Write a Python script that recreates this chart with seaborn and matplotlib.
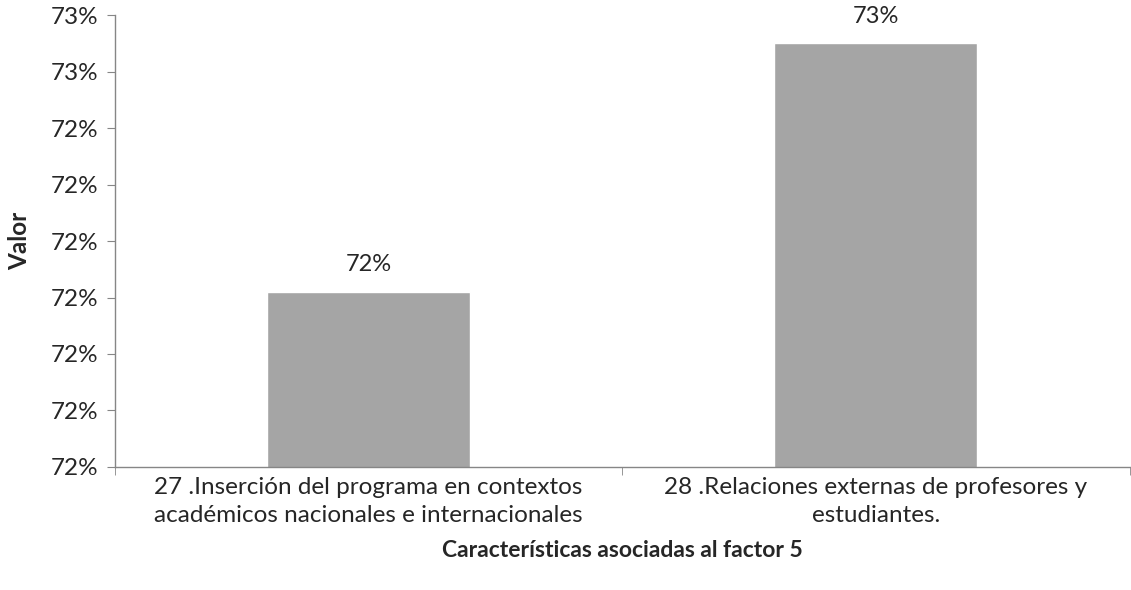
import matplotlib
matplotlib.use("Agg")
import pandas as pd
import seaborn as sns
import matplotlib.pyplot as plt
from matplotlib.ticker import FuncFormatter, FixedLocator

categorias = [
    "27 .Inserción del programa en contextos\nacadémicos nacionales e internacionales",
    "28 .Relaciones externas de profesores y\nestudiantes.",
]
valores = [0.7211, 0.7255]
etiquetas = ["72%", "73%"]

df = pd.DataFrame({"Caracteristica": categorias, "Valor": valores})

sns.set_style("white")
plt.rcParams["font.family"] = ["Lato", "DejaVu Sans"]

fig = plt.figure(figsize=(11.31, 5.90), dpi=100)
ax = fig.add_axes([0.1017, 0.2085, 0.897, 0.766])

sns.barplot(data=df, x="Caracteristica", y="Valor", color="#A5A5A5",
            width=0.4, saturation=1, ax=ax)

ax.set_ylim(0.718, 0.726)
ax.set_yticks([0.718 + 0.001 * i for i in range(9)])
# redondeo tipo Excel (0.725 -> 73%)
ax.yaxis.set_major_formatter(FuncFormatter(lambda v, p: f"{v * 100 + 1e-6:.0f}%"))
ax.set_xlim(-0.5, 1.5)

for i, (v, t) in enumerate(zip(valores, etiquetas)):
    ax.annotate(t, (i, v), xytext=(0, 12), textcoords="offset points",
                ha="center", va="bottom", fontsize=17)

for s in ["top", "right"]:
    ax.spines[s].set_visible(False)
for s in ["left", "bottom"]:
    ax.spines[s].set_color("#868686")
    ax.spines[s].set_linewidth(1)

ax.tick_params(axis="y", which="major", length=6, color="#868686",
               labelsize=17.5, left=True, pad=6)
ax.set_xticks([0, 1])
ax.set_xticklabels(categorias, linespacing=1.45)
ax.tick_params(axis="x", which="major", length=0, labelsize=17.5, pad=7)
ax.xaxis.set_minor_locator(FixedLocator([-0.5, 0.5, 1.5]))
ax.tick_params(axis="x", which="minor", length=6, color="#868686", bottom=True)

ax.set_xlabel("Características asociadas al factor 5", fontsize=16.5,
              fontweight="bold", labelpad=10)
ax.set_ylabel("Valor", fontsize=17.5, fontweight="bold", labelpad=14)

fig.savefig("out.png", dpi=100)
